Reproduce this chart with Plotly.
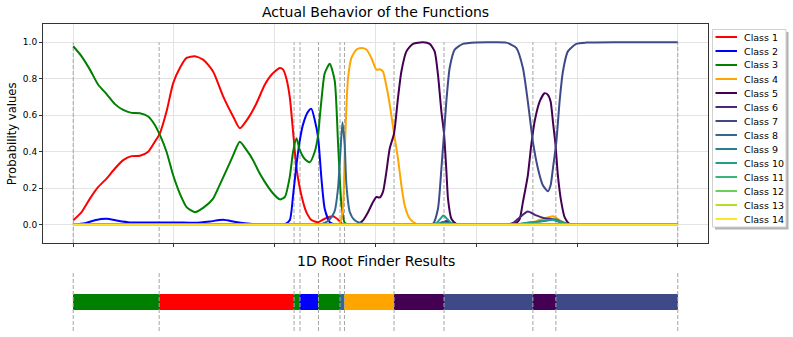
import plotly.graph_objects as go

# ---------------- data ----------------
class_names = [f"Class {i}" for i in range(1, 15)]
class_colors = ["#ff0000", "#0000ff", "#008000", "#ffa500", "#440154", "#482878", "#3e4989",
                "#31688e", "#26828e", "#1f9e89", "#35b779", "#6ece58", "#b5de2b", "#fde725"]

c1_x = [0, 0.083, 0.166, 0.248, 0.331, 0.414, 0.496, 0.579, 0.662, 0.744, 0.810, 0.860, 0.926, 0.992,
        1.058, 1.125, 1.207, 1.289, 1.388, 1.488, 1.587, 1.653, 1.736, 1.819, 1.901, 1.968, 2.050, 2.083,
        2.116, 2.149, 2.182, 2.216, 2.265, 2.314, 2.364, 2.430, 2.496, 2.579, 2.628, 2.678, 2.745, 2.850, 6.0]
c1_y = [0.024, 0.069, 0.143, 0.207, 0.253, 0.308, 0.354, 0.376, 0.378, 0.400, 0.455, 0.501, 0.620, 0.776,
        0.859, 0.914, 0.923, 0.905, 0.840, 0.703, 0.593, 0.529, 0.584, 0.666, 0.767, 0.822, 0.859, 0.850,
        0.800, 0.700, 0.510, 0.310, 0.160, 0.069, 0.026, 0.014, 0.033, 0.046, 0.028, 0.002, 0.0, 0.0, 0.0]

c2_x = [0, 0.116, 0.215, 0.331, 0.443, 0.562, 0.761, 1.009, 1.207, 1.356, 1.488, 1.614, 1.753, 1.950,
        2.100, 2.149, 2.182, 2.216, 2.248, 2.281, 2.331, 2.364, 2.397, 2.430, 2.464, 2.496, 2.546, 2.605,
        2.700, 6.0]
c2_y = [0.0, 0.008, 0.025, 0.033, 0.022, 0.013, 0.012, 0.013, 0.011, 0.018, 0.027, 0.015, 0.005, 0.002,
        0.003, 0.024, 0.161, 0.330, 0.460, 0.550, 0.620, 0.635, 0.574, 0.480, 0.250, 0.088, 0.014, 0.0,
        0.0, 0.0]

c3_x = [0, 0.083, 0.166, 0.248, 0.331, 0.414, 0.496, 0.579, 0.662, 0.744, 0.810, 0.860, 0.926, 0.992,
        1.058, 1.125, 1.207, 1.296, 1.388, 1.455, 1.521, 1.587, 1.653, 1.719, 1.785, 1.842, 1.901, 1.984,
        2.050, 2.100, 2.149, 2.182, 2.216, 2.248, 2.298, 2.347, 2.397, 2.430, 2.447, 2.472, 2.496, 2.546,
        2.595, 2.628, 2.662, 2.695, 2.745, 2.850, 6.0]
c3_y = [0.978, 0.923, 0.850, 0.767, 0.716, 0.661, 0.629, 0.613, 0.611, 0.593, 0.547, 0.492, 0.400, 0.271,
        0.171, 0.097, 0.069, 0.095, 0.143, 0.220, 0.299, 0.380, 0.455, 0.410, 0.354, 0.290, 0.235, 0.171,
        0.139, 0.152, 0.262, 0.400, 0.474, 0.410, 0.360, 0.342, 0.400, 0.490, 0.590, 0.730, 0.830, 0.882,
        0.790, 0.450, 0.110, 0.010, 0.0, 0.0, 0.0]

c4_x = [0, 2.500, 2.600, 2.628, 2.655, 2.678, 2.695, 2.711, 2.727, 2.761, 2.811, 2.860, 2.910, 2.959,
        3.009, 3.042, 3.074, 3.108, 3.141, 3.184, 3.223, 3.257, 3.290, 3.340, 3.406, 3.488, 3.600, 4.300,
        4.381, 4.463, 4.596, 4.678, 4.761, 4.844, 4.926, 5.025, 5.150, 6.0]
c4_y = [0, 0, 0, 0, 0.020, 0.10, 0.40, 0.64, 0.80, 0.914, 0.960, 0.969, 0.960, 0.914,
        0.850, 0.852, 0.840, 0.760, 0.660, 0.500, 0.363, 0.216, 0.106, 0.033, 0.005, 0, 0, 0,
        0, 0.005, 0.020, 0.035, 0.046, 0.020, 0.004, 0, 0, 0]

c5_x = [0, 2.700, 2.811, 2.876, 2.926, 2.975, 3.009, 3.042, 3.074, 3.108, 3.141, 3.184, 3.223, 3.257,
        3.307, 3.372, 3.471, 3.538, 3.587, 3.620, 3.654, 3.680, 3.703, 3.720, 3.753, 3.802, 3.885, 4.250,
        4.331, 4.397, 4.430, 4.463, 4.512, 4.546, 4.579, 4.629, 4.678, 4.711, 4.738, 4.761, 4.787, 4.810,
        4.844, 4.877, 4.926, 5.025, 5.150, 6.0]
c5_y = [0, 0, 0, 0.024, 0.069, 0.124, 0.152, 0.149, 0.180, 0.290, 0.418, 0.500, 0.694, 0.840,
        0.950, 0.991, 1.0, 0.991, 0.950, 0.822, 0.620, 0.500, 0.300, 0.140, 0.033, 0.005, 0, 0,
        0, 0.010, 0.030, 0.124, 0.271, 0.437, 0.565, 0.675, 0.721, 0.712, 0.675, 0.565, 0.437, 0.271,
        0.124, 0.042, 0.005, 0, 0, 0]

c6_x = [0, 3.500, 3.580, 3.637, 3.676, 3.706, 3.746, 3.815, 3.900, 4.200, 4.282, 4.364, 4.430, 4.512,
        4.596, 4.678, 4.761, 4.827, 4.906, 4.974, 5.100, 6.0]
c6_y = [0, 0, 0, 0.005, 0.015, 0.020, 0.010, 0, 0, 0, 0, 0.010, 0.040, 0.073,
        0.051, 0.036, 0.030, 0.015, 0.003, 0, 0, 0]

c7_x = [0, 3.400, 3.488, 3.570, 3.620, 3.654, 3.680, 3.703, 3.736, 3.786, 3.868, 4.001, 4.133, 4.298,
        4.397, 4.463, 4.512, 4.562, 4.612, 4.661, 4.711, 4.738, 4.761, 4.795, 4.827, 4.860, 4.909, 4.993,
        5.092, 5.422, 6.0]
c7_y = [0, 0, 0, 0.005, 0.088, 0.308, 0.500, 0.675, 0.859, 0.960, 0.991, 0.999, 1.0, 0.998,
        0.969, 0.859, 0.675, 0.455, 0.308, 0.216, 0.183, 0.216, 0.308, 0.455, 0.675, 0.840, 0.950, 0.991,
        0.998, 1.0, 1.0]

c8_x = [0, 2.350, 2.426, 2.496, 2.546, 2.595, 2.628, 2.652, 2.672, 2.695, 2.711, 2.745, 2.794, 2.876,
        2.992, 3.100, 6.0]
c8_y = [0, 0, 0, 0.010, 0.030, 0.075, 0.200, 0.400, 0.562, 0.430, 0.220, 0.070, 0.024, 0.005,
        0, 0, 0]

c9_x = [0, 3.520, 3.597, 3.667, 3.726, 3.796, 3.900, 4.300, 4.381, 4.531, 4.678, 4.787, 4.857, 4.946,
        5.050, 6.0]
c9_y = [0, 0, 0, 0.015, 0.008, 0, 0, 0, 0, 0.012, 0.020, 0.030, 0.012, 0, 0, 0]

c10_x = [0, 3.460, 3.538, 3.607, 3.647, 3.675, 3.706, 3.746, 3.815, 3.900, 4.300, 4.381, 4.480, 4.629,
         4.761, 4.827, 4.926, 5.030, 6.0]
c10_y = [0, 0, 0, 0.010, 0.035, 0.050, 0.035, 0.012, 0, 0, 0, 0, 0.008, 0.018,
         0.028, 0.015, 0, 0, 0]

c11_x = [0, 6.0]
c11_y = [0, 0]
c12_x = [0, 6.0]
c12_y = [0, 0]
c13_x = [0, 6.0]
c13_y = [0, 0]
c14_x = [0, 6.0]
c14_y = [0, 0]

series_x = [c1_x, c2_x, c3_x, c4_x, c5_x, c6_x, c7_x, c8_x, c9_x, c10_x, c11_x, c12_x, c13_x, c14_x]
series_y = [c1_y, c2_y, c3_y, c4_y, c5_y, c6_y, c7_y, c8_y, c9_y, c10_y, c11_y, c12_y, c13_y, c14_y]

# roots found by the 1D root finder and the winning class on each interval
roots = [0.0, 0.853, 2.192, 2.251, 2.434, 2.648, 2.692, 3.184, 3.680, 4.562, 4.790, 6.0]
segment_class = [3, 1, 3, 2, 3, 8, 4, 5, 7, 5, 7]

x_ticks = [0, 1, 2, 3, 4, 5, 6]
y_ticks = [0.0, 0.2, 0.4, 0.6, 0.8, 1.0]

# ---------------- layout helpers ----------------
W, H = 793, 337
ML, MR, MT, MB = 43, 85, 24, 6
PW = W - ML - MR
PH = H - MT - MB


def px_x(px):
    return (px - ML) / PW


def px_y(py):
    return (H - MB - py) / PH


FONT = "DejaVu Sans"
VLINE = dict(color="#a6a6a6", width=1, dash="4px,2px")

fig = go.Figure()

# dashed root lines (top panel)
vx, vy = [], []
for r in roots:
    vx += [r, r, None]
    vy += [-0.1, 1.0, None]
fig.add_trace(go.Scatter(x=vx, y=vy, mode="lines", line=VLINE, hoverinfo="skip",
                         showlegend=False, xaxis="x", yaxis="y"))

# class probability curves
for name, color, xs, ys in zip(class_names, class_colors, series_x, series_y):
    fig.add_trace(go.Scatter(x=xs, y=ys, mode="lines", name=name,
                             line=dict(color=color, width=2, shape="spline", smoothing=0.6),
                             showlegend=False, xaxis="x", yaxis="y"))

# bottom panel: dashed lines and result bar
bx, by = [], []
for r in roots:
    bx += [r, r, None]
    by += [-1, 1, None]
fig.add_trace(go.Scatter(x=bx, y=by, mode="lines", line=VLINE, hoverinfo="skip",
                         showlegend=False, xaxis="x2", yaxis="y2"))

starts = roots[:-1]
widths = [b - a for a, b in zip(roots[:-1], roots[1:])]
fig.add_trace(go.Bar(y=[0] * len(starts), x=widths, base=starts, orientation="h",
                     marker=dict(color=[class_colors[c - 1] for c in segment_class], line=dict(width=0)),
                     width=0.55, showlegend=False, xaxis="x2", yaxis="y2"))

top_dom = [px_y(243), 1.0]
bot_dom = [0.0, px_y(273)]

axis_common = dict(showline=True, mirror=True, linecolor="#333333", linewidth=1, zeroline=False,
                   showgrid=True, gridcolor="#e3e3e3", gridwidth=1, ticks="outside", ticklen=3,
                   tickcolor="#333333")

shapes = []
annotations = []

# titles
annotations.append(dict(text="Actual Behavior of the Functions", xref="paper", yref="paper",
                        x=0.5, y=px_y(12), xanchor="center", yanchor="middle", showarrow=False,
                        font=dict(family=FONT, size=14, color="#000000")))
annotations.append(dict(text="1D Root Finder Results", xref="paper", yref="paper",
                        x=0.5, y=px_y(261), xanchor="center", yanchor="middle", showarrow=False,
                        font=dict(family=FONT, size=14, color="#000000")))
annotations.append(dict(text="Probability values", xref="paper", yref="paper",
                        x=px_x(11.7), y=px_y(133.5), xanchor="center", yanchor="middle",
                        textangle=-90, showarrow=False,
                        font=dict(family=FONT, size=11.6, color="#000000")))

# manual legend (matplotlib-like box with shadow)
lx0, ly0, lx1, ly1 = 712.5, 29.5, 786, 227
shapes.append(dict(type="rect", xref="paper", yref="paper", x0=px_x(lx0 + 2.5), x1=px_x(lx1 + 2.5),
                   y0=px_y(ly1 + 2.5), y1=px_y(ly0 + 2.5), fillcolor="#b3b3b3", line=dict(width=0),
                   layer="above"))
shapes.append(dict(type="rect", xref="paper", yref="paper", x0=px_x(lx0), x1=px_x(lx1),
                   y0=px_y(ly1), y1=px_y(ly0), fillcolor="#ffffff",
                   line=dict(color="#d0d0d0", width=1), layer="above"))
for i, (name, color) in enumerate(zip(class_names, class_colors)):
    yc = 37 + 14 * i
    shapes.append(dict(type="line", xref="paper", yref="paper", x0=px_x(715.5), x1=px_x(737),
                       y0=px_y(yc), y1=px_y(yc), line=dict(color=color, width=2), layer="above"))
    annotations.append(dict(text=name, xref="paper", yref="paper", x=px_x(742), y=px_y(yc),
                            xanchor="left", yanchor="middle", showarrow=False,
                            font=dict(family=FONT, size=9.5, color="#000000")))

fig.update_layout(
    width=W, height=H,
    margin=dict(l=ML, r=MR, t=MT, b=MB),
    paper_bgcolor="#ffffff", plot_bgcolor="#ffffff",
    font=dict(family=FONT, size=9, color="#000000"),
    showlegend=False,
    hovermode=False,
    xaxis=dict(domain=[0, 1], anchor="y", range=[-0.3, 6.3], tickvals=x_ticks, showticklabels=False,
               automargin=False, **axis_common),
    yaxis=dict(domain=top_dom, anchor="x", range=[-0.1, 1.1], tickvals=y_ticks, tickformat=".1f",
               automargin=False, tickfont=dict(family=FONT, size=9, color="#000000"), **axis_common),
    xaxis2=dict(domain=[0, 1], anchor="y2", range=[-0.3, 6.3], visible=False),
    yaxis2=dict(domain=bot_dom, anchor="x2", range=[-1, 1], visible=False),
    shapes=shapes,
    annotations=annotations,
    bargap=0,
)

fig.write_html("out.html", config={"displayModeBar": False},
               post_script="document.body.style.margin='0px';")
